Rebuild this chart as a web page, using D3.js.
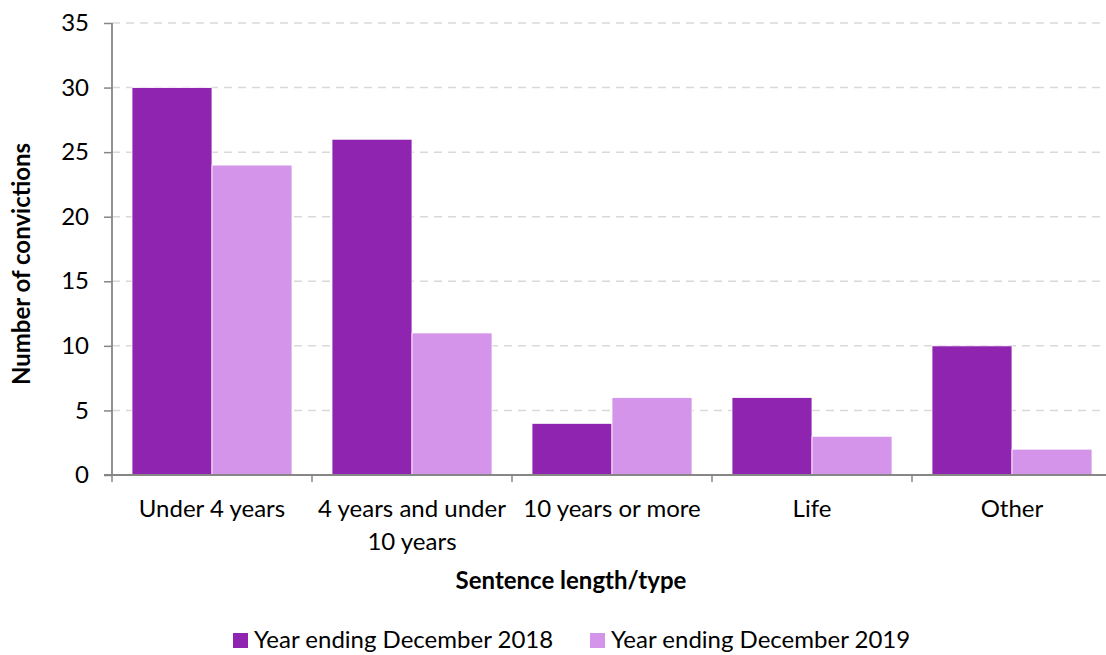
<!DOCTYPE html>
<html>
<head>
<meta charset="utf-8">
<script src="https://cdn.jsdelivr.net/npm/d3@7"></script>
<style>
  html, body { margin: 0; padding: 0; background: #fff; }
  svg { display: block; font-family: Lato, "Open Sans", sans-serif; }
</style>
</head>
<body>
<svg id="chart" width="1106" height="655"></svg>
<script>
// Convictions by sentence length/type
const categories = ["Under 4 years", "4 years and under 10 years", "10 years or more", "Life", "Other"];
const seriesNames = ["Year ending December 2018", "Year ending December 2019"];
const values2018 = [30, 26, 4, 6, 10];
const values2019 = [24, 11, 6, 3, 2];
const yTicks = [0, 5, 10, 15, 20, 25, 30, 35];
const colors = ["#8e24b0", "#d494ea"];

const FS = 24;
const svg = d3.select("#chart");
const margin = { left: 112, top: 23, right: 1112, bottom: 475 };

const x0 = d3.scaleBand().domain(categories).range([margin.left, margin.right]).paddingInner(0).paddingOuter(0);
const x1 = d3.scaleBand().domain(seriesNames).range([0, x0.bandwidth()]).paddingInner(0).paddingOuter(0.25);
const y = d3.scaleLinear().domain([0, 35]).range([margin.bottom, margin.top]);

const rows = categories.map((c, i) => ({ cat: c, vals: [values2018[i], values2019[i]] }));

// dashed gridlines
svg.append("g").selectAll("line")
  .data(yTicks.filter(t => t > 0))
  .join("line")
  .attr("x1", margin.left).attr("x2", 1106)
  .attr("y1", d => y(d)).attr("y2", d => y(d))
  .attr("stroke", "#d9d9d9").attr("stroke-width", 1.5)
  .attr("stroke-dasharray", "8,6");

// bars
const groups = svg.append("g").selectAll("g")
  .data(rows).join("g")
  .attr("transform", d => `translate(${x0(d.cat)},0)`);
groups.selectAll("rect")
  .data(d => d.vals.map((v, i) => ({ name: seriesNames[i], v, i })))
  .join("rect")
  .attr("x", d => x1(d.name))
  .attr("width", x1.bandwidth())
  .attr("y", d => y(d.v))
  .attr("height", d => y(0) - y(d.v))
  .attr("fill", d => colors[d.i])
  .attr("stroke", "#ffffff").attr("stroke-width", 0.8);

// y axis
const yAxis = svg.append("g")
  .attr("transform", `translate(${margin.left},0)`)
  .call(d3.axisLeft(y).tickValues(yTicks).tickSize(8).tickPadding(15).tickFormat(d3.format("d")));
yAxis.select(".domain").attr("stroke", "#868686").attr("stroke-width", 1.8)
  .attr("d", `M0,${margin.bottom}V${margin.top}`);
yAxis.selectAll(".tick line").attr("stroke", "#868686").attr("stroke-width", 1.5);
yAxis.selectAll(".tick text").attr("font-size", FS).attr("fill", "#000")
  .style("font-family", "Lato, 'Open Sans', sans-serif");

// x axis: baseline with boundary ticks between categories
const xAxisG = svg.append("g");
xAxisG.append("line")
  .attr("x1", margin.left - 8).attr("x2", 1106)
  .attr("y1", y(0)).attr("y2", y(0))
  .attr("stroke", "#868686").attr("stroke-width", 1.8);
xAxisG.selectAll("line.tk")
  .data(categories).join("line").attr("class", "tk")
  .attr("x1", d => x0(d)).attr("x2", d => x0(d))
  .attr("y1", y(0)).attr("y2", y(0) + 7)
  .attr("stroke", "#868686").attr("stroke-width", 1.5);

// category labels, wrapped to the band width
const labels = xAxisG.selectAll("text.cat")
  .data(categories).join("text").attr("class", "cat")
  .attr("x", d => x0(d) + x0.bandwidth() / 2)
  .attr("y", 517)
  .attr("text-anchor", "middle")
  .attr("font-size", FS).attr("fill", "#000");
labels.each(function (d) {
  const t = d3.select(this);
  const words = d.split(" ");
  const cx = x0(d) + x0.bandwidth() / 2;
  let line = [];
  let ts = t.append("tspan").attr("x", cx).attr("dy", 0);
  for (const w of words) {
    line.push(w);
    ts.text(line.join(" "));
    if (ts.node().getComputedTextLength() > 205 && line.length > 1) {
      line.pop();
      ts.text(line.join(" "));
      line = [w];
      ts = t.append("tspan").attr("x", cx).attr("dy", 33).text(w);
    }
  }
});

// axis titles
svg.append("text")
  .attr("transform", `translate(30,264) rotate(-90)`)
  .attr("text-anchor", "middle")
  .attr("font-size", FS).attr("font-weight", "bold").attr("fill", "#000")
  .text("Number of convictions");
svg.append("text")
  .attr("x", 571).attr("y", 589)
  .attr("text-anchor", "middle")
  .attr("font-size", FS).attr("font-weight", "bold").attr("fill", "#000")
  .text("Sentence length/type");

// legend
const legendX = [233, 590];
const legend = svg.append("g").selectAll("g")
  .data(seriesNames).join("g")
  .attr("transform", (d, i) => `translate(${legendX[i]},633)`);
legend.append("rect").attr("width", 15).attr("height", 15).attr("fill", (d, i) => colors[i]);
legend.append("text")
  .attr("x", 21).attr("y", 15)
  .attr("font-size", FS).attr("fill", "#000")
  .text(d => d);
</script>
</body>
</html>
